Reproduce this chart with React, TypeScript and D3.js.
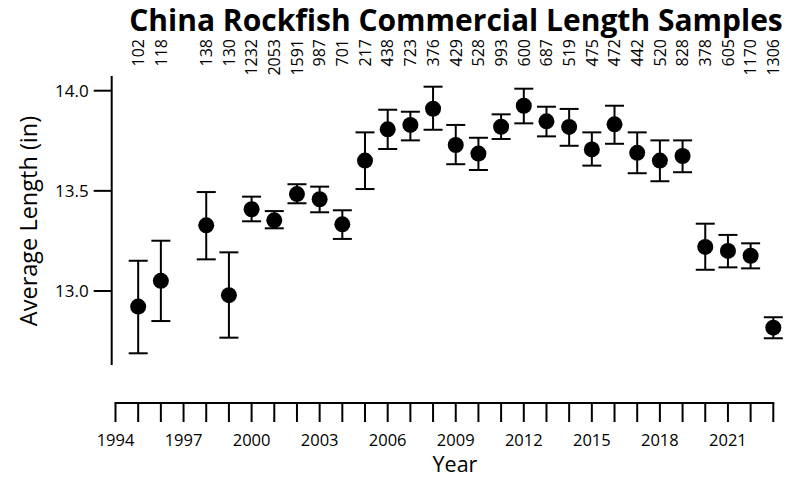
import React from 'react';
import * as d3 from 'd3';

const years = [1995, 1996, 1998, 1999, 2000, 2001, 2002, 2003, 2004, 2005, 2006, 2007, 2008, 2009,
  2010, 2011, 2012, 2013, 2014, 2015, 2016, 2017, 2018, 2019, 2020, 2021, 2022, 2023];
const meanLength = [12.922, 13.051, 13.328, 12.979, 13.408, 13.353, 13.484, 13.458, 13.333, 13.651,
  13.807, 13.829, 13.91, 13.729, 13.686, 13.82, 13.925, 13.847, 13.819, 13.707, 13.832, 13.69,
  13.651, 13.674, 13.22, 13.2, 13.176, 12.817];
const upper = [13.151, 13.251, 13.494, 13.193, 13.471, 13.399, 13.533, 13.521, 13.403, 13.792,
  13.905, 13.895, 14.02, 13.829, 13.765, 13.882, 14.01, 13.92, 13.909, 13.792, 13.925, 13.792,
  13.752, 13.752, 13.336, 13.28, 13.238, 12.869];
const lower = [12.689, 12.85, 13.158, 12.767, 13.348, 13.313, 13.438, 13.393, 13.26, 13.509,
  13.709, 13.752, 13.805, 13.633, 13.604, 13.759, 13.837, 13.772, 13.725, 13.626, 13.735, 13.588,
  13.548, 13.593, 13.106, 13.118, 13.113, 12.764];
const sampleCounts = [102, 118, 138, 130, 1232, 2053, 1591, 987, 701, 217, 438, 723, 376, 429,
  528, 993, 600, 687, 519, 475, 472, 442, 520, 828, 378, 605, 1170, 1306];
const yTicks = [13.0, 13.5, 14.0];
const xTickYears = d3.range(1994, 2024);
const xLabelYears = d3.range(1994, 2022, 3);

const width = 786;
const height = 478;
const font = '"Open Sans", "Noto Sans", sans-serif';

export default function App() {
  const x = d3.scaleLinear().domain([1994, 2023]).range([115.5, 773.3]);
  const y = d3.scaleLinear().domain([13, 14]).range([291, 90.7]);
  const axisX = 111.7;
  const axisTop = 76;
  const axisBottom = 365;
  const xAxisY = 403;
  const cap = 9.5;

  return (
    <svg width={width} height={height} style={{ position: 'absolute', left: 0, top: 0, background: '#fff' }}>
      <text x={456} y={31} textAnchor="middle" fontFamily={font} fontWeight="bold" fontSize={30} fill="#000">
        China Rockfish Commercial Length Samples
      </text>

      {/* sample sizes */}
      {years.map((yr, i) => (
        <text key={'n' + yr} transform={`translate(${x(yr)},39) rotate(-90)`} dy="0.36em"
          textAnchor="end" fontFamily={font} fontSize={16} fill="#000">
          {sampleCounts[i]}
        </text>
      ))}

      {/* y axis */}
      <line x1={axisX} x2={axisX} y1={axisTop} y2={axisBottom} stroke="#000" strokeWidth={2} />
      {yTicks.map((t) => (
        <g key={'yt' + t}>
          <line x1={axisX - 18} x2={axisX} y1={y(t)} y2={y(t)} stroke="#000" strokeWidth={2} />
          <text x={axisX - 23} y={y(t)} dy="0.35em" textAnchor="end" fontFamily={font} fontSize={17} fill="#000">
            {t.toFixed(1)}
          </text>
        </g>
      ))}
      <text transform="translate(29,221) rotate(-90)" dy="0.35em" textAnchor="middle" fontFamily={font} fontSize={23.5} fill="#000">
        Average Length (in)
      </text>

      {/* x axis */}
      <line x1={x(1994) - 1} x2={x(2023) + 1} y1={xAxisY} y2={xAxisY} stroke="#000" strokeWidth={2} />
      {xTickYears.map((yr) => (
        <line key={'xt' + yr} x1={x(yr)} x2={x(yr)} y1={xAxisY} y2={xAxisY + 19} stroke="#000" strokeWidth={2} />
      ))}
      {xLabelYears.map((yr) => (
        <text key={'xl' + yr} x={x(yr)} y={440} dy="0.35em" textAnchor="middle" fontFamily={font} fontSize={16.5} fill="#000">
          {yr}
        </text>
      ))}
      <text x={455} y={472} textAnchor="middle" fontFamily={font} fontSize={21.5} fill="#000">
        Year
      </text>

      {/* error bars and points */}
      {years.map((yr, i) => {
        const cx = x(yr);
        return (
          <g key={'p' + yr}>
            <line x1={cx} x2={cx} y1={y(upper[i])} y2={y(lower[i])} stroke="#000" strokeWidth={2} />
            <line x1={cx - cap} x2={cx + cap} y1={y(upper[i])} y2={y(upper[i])} stroke="#000" strokeWidth={2} />
            <line x1={cx - cap} x2={cx + cap} y1={y(lower[i])} y2={y(lower[i])} stroke="#000" strokeWidth={2} />
            <circle cx={cx} cy={y(meanLength[i])} r={8} fill="#000" />
          </g>
        );
      })}
    </svg>
  );
}
